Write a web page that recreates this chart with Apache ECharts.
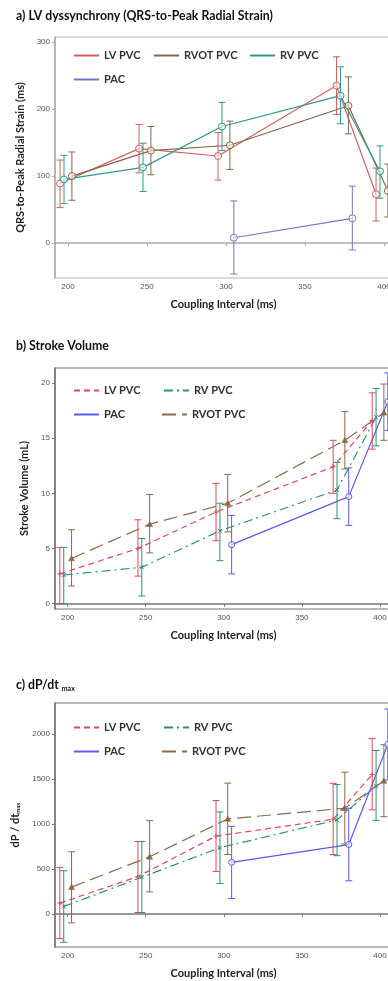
<!DOCTYPE html>
<html>
<head>
<meta charset="utf-8">
<script src="https://cdn.jsdelivr.net/npm/echarts@6/dist/echarts.min.js"></script>
<style>
  html, body { margin: 0; padding: 0; background: #fff; }
  #chart { width: 388px; height: 981px; }
</style>
</head>
<body>
<div id="chart"></div>
<script>
// tick labels
var xTicks = [200, 250, 300, 350, 400];
var aTicks = [0, 100, 200, 300];
var bTicks = [0, 5, 10, 15, 20];
var cTicks = [0, 500, 1000, 1500, 2000];

// rows: [coupling interval, mean, lower, upper]
// a) QRS-to-peak radial strain (ms)
var aLV   = [[195, 89, 53, 124], [245, 141, 105, 177], [295, 130, 94, 165], [370, 235, 192, 278], [395, 73, 33, 112]];
var aRVOT = [[202.5, 100, 64, 136], [252.5, 138, 102, 174], [302.5, 146, 110, 182], [377.5, 205, 163, 248], [402.5, 78, 39, 118]];
var aRV   = [[197.5, 95, 59, 131], [247.5, 113, 77, 149], [297.5, 174, 138, 210], [372.5, 220, 178, 263], [397.5, 107, 67, 145]];
var aPAC  = [[305, 8, -46, 63], [380, 37, -10, 85]];

// b) stroke volume (mL)
var bLV   = [[195, 2.7, 0, 5.1], [245, 5.0, 2.5, 7.6], [295, 8.3, 5.7, 10.9], [370, 12.4, 10.0, 14.8], [395, 16.6, 14.0, 19.1]];
var bRV   = [[197.5, 2.6, 0, 5.1], [247.5, 3.3, 0.7, 5.9], [297.5, 6.6, 3.9, 9.1], [372.5, 10.3, 7.7, 12.8], [397.5, 16.9, 14.3, 19.5]];
var bRVOT = [[202.5, 4.1, 1.6, 6.7], [252.5, 7.2, 4.6, 9.9], [302.5, 9.1, 6.5, 11.7], [377.5, 14.8, 12.2, 17.4], [402.5, 17.3, 14.8, 19.9]];
var bPAC  = [[305, 5.35, 2.7, 8.0], [380, 9.7, 7.1, 12.3], [405, 18.3, 15.7, 20.9]];

// c) dP/dt max
var cLV   = [[195, 120, -275, 517], [245, 415, 15, 805], [295, 865, 472, 1260], [370, 1052, 660, 1452], [395, 1550, 1156, 1951]];
var cRV   = [[197.5, 82, -315, 480], [247.5, 408, 15, 805], [297.5, 736, 339, 1134], [372.5, 1045, 647, 1438], [397.5, 1424, 1040, 1817]];
var cRVOT = [[202.5, 298, -100, 691], [252.5, 635, 245, 1037], [302.5, 1056, 660, 1454], [377.5, 1175, 777, 1576], [402.5, 1479, 1081, 1881]];
var cPAC  = [[305, 573, 171, 974], [380, 771, 368, 1175], [405, 1885, 1490, 2279]];

var font = 'Lato';
var grey = '#555';

// 误差线 + 标记
function errBar(shape, color, r) {
    return function (params, api) {
        var x = api.value(0);
        var m = api.coord([x, api.value(1)]);
        var lo = api.coord([x, api.value(2)]);
        var hi = api.coord([x, api.value(3)]);
        var cap = 3.5;
        var st = { stroke: color, lineWidth: 1, fill: 'none' };
        var kids = [
            { type: 'line', shape: { x1: lo[0], y1: lo[1], x2: hi[0], y2: hi[1] }, style: st },
            { type: 'line', shape: { x1: lo[0] - cap, y1: lo[1], x2: lo[0] + cap, y2: lo[1] }, style: st },
            { type: 'line', shape: { x1: hi[0] - cap, y1: hi[1], x2: hi[0] + cap, y2: hi[1] }, style: st }
        ];
        if (shape === 'circle') {
            kids.push({ type: 'circle', shape: { cx: m[0], cy: m[1], r: r }, style: { stroke: color, lineWidth: 1, fill: 'rgba(255,255,255,0.6)' } });
        } else if (shape === 'plus') {
            kids.push({ type: 'line', shape: { x1: m[0] - r, y1: m[1], x2: m[0] + r, y2: m[1] }, style: st });
            kids.push({ type: 'line', shape: { x1: m[0], y1: m[1] - r, x2: m[0], y2: m[1] + r }, style: st });
        } else if (shape === 'cross') {
            kids.push({ type: 'line', shape: { x1: m[0] - r, y1: m[1] - r, x2: m[0] + r, y2: m[1] + r }, style: st });
            kids.push({ type: 'line', shape: { x1: m[0] - r, y1: m[1] + r, x2: m[0] + r, y2: m[1] - r }, style: st });
        } else if (shape === 'tri') {
            kids.push({ type: 'polygon', shape: { points: [[m[0], m[1] - r], [m[0] - r, m[1] + r * 0.8], [m[0] + r, m[1] + r * 0.8]] }, style: { fill: color, stroke: color, lineWidth: 0.5 } });
        }
        return { type: 'group', children: kids };
    };
}

var series = [];
function addGroup(panel, name, rows, color, dash, shape, r) {
    series.push({
        name: name,
        type: 'line',
        xAxisIndex: panel,
        yAxisIndex: panel,
        data: rows.map(function (d) { return [d[0], d[1]]; }),
        symbol: 'none',
        itemStyle: { color: color },
        lineStyle: { color: color, width: 1.2, type: dash },
        animation: false,
        z: 3
    });
    series.push({
        name: name + ' err',
        type: 'custom',
        xAxisIndex: panel,
        yAxisIndex: panel,
        data: rows,
        encode: { x: 0, y: [1, 2, 3] },
        renderItem: errBar(shape, color, r),
        clip: true,
        animation: false,
        z: 4
    });
}

// a 面板
addGroup(0, 'LV PVC', aLV, '#d06060', 'solid', 'circle', 3.5);
addGroup(0, 'RVOT PVC', aRVOT, '#85664a', 'solid', 'circle', 3.5);
addGroup(0, 'RV PVC', aRV, '#2e9a88', 'solid', 'circle', 3.5);
addGroup(0, 'PAC', aPAC, '#7078c4', 'solid', 'circle', 3.5);
// b 面板 (名字加空格区分图例)
addGroup(1, 'LV PVC ', bLV, '#e0475c', [6, 4], 'plus', 2.5);
addGroup(1, 'RV PVC ', bRV, '#2a8f78', [9, 4, 2, 4], 'cross', 2);
addGroup(1, 'RVOT PVC ', bRVOT, '#8a6a45', [14, 6], 'tri', 3);
addGroup(1, 'PAC ', bPAC, '#5a5af0', 'solid', 'circle', 3);
// c 面板
addGroup(2, 'LV PVC  ', cLV, '#e0475c', [6, 4], 'plus', 2.5);
addGroup(2, 'RV PVC  ', cRV, '#2a8f78', [9, 4, 2, 4], 'cross', 2);
addGroup(2, 'RVOT PVC  ', cRVOT, '#8a6a45', [14, 6], 'tri', 3);
addGroup(2, 'PAC  ', cPAC, '#5a5af0', 'solid', 'circle', 3);

var legendItems = [
    ['LV PVC', 73, 50], ['RVOT PVC', 153, 50], ['RV PVC', 249, 50], ['PAC', 73, 74],
    ['LV PVC ', 73, 385], ['RV PVC ', 163, 385], ['PAC ', 73, 409], ['RVOT PVC ', 161, 409],
    ['LV PVC  ', 73, 722], ['RV PVC  ', 163, 722], ['PAC  ', 73, 746], ['RVOT PVC  ', 161, 746]
];
var legends = legendItems.map(function (it) {
    return {
        data: [it[0]],
        left: it[1],
        top: it[2],
        padding: 0,
        itemWidth: 25,
        itemHeight: 12,
        selectedMode: false,
        itemStyle: { opacity: 0 },
        textStyle: { fontFamily: font, fontWeight: 'bold', fontSize: 11, color: '#333' }
    };
});

function xAx(i, min, max, line) {
    return {
        gridIndex: i, type: 'value', min: min, max: max,
        name: 'Coupling Interval (ms)', nameLocation: 'middle', nameGap: 21,
        nameTextStyle: { fontFamily: font, fontWeight: 'bold', fontSize: 11, color: '#222' },
        axisLine: { show: true, lineStyle: { color: line, width: 1.5 } },
        axisTick: { show: true, length: 3, customValues: xTicks, lineStyle: { color: line } },
        axisLabel: { customValues: xTicks, fontSize: 8, color: grey, margin: 5, fontFamily: 'Liberation Sans' },
        splitLine: { show: false }
    };
}
function yAx(i, min, max, ticks, name, rich, line) {
    var ax = {
        gridIndex: i, type: 'value', min: min, max: max,
        name: name, nameLocation: 'middle', nameGap: 23,
        nameTextStyle: { fontFamily: font, fontWeight: 'bold', fontSize: 11, color: '#222' },
        axisLine: { show: true, lineStyle: { color: line, width: 1.5 } },
        axisTick: { show: true, length: 3, customValues: ticks, lineStyle: { color: line } },
        axisLabel: { customValues: ticks, fontSize: 8, color: grey, margin: 5, fontFamily: 'Liberation Sans',
                     formatter: function (v) { return String(v); } },
        splitLine: { show: false }
    };
    if (rich) ax.nameTextStyle.rich = rich;
    return ax;
}

var gridBase = { left: 55, right: -4, show: true, outerBoundsMode: 'none', containLabel: false };

var option = {
    backgroundColor: '#fff',
    animation: false,
    title: [
        { text: 'a) LV dyssynchrony (QRS-to-Peak Radial Strain)', left: 11, top: 5,
          textStyle: { fontFamily: font, fontWeight: 'bold', fontSize: 12.3, color: '#111' } },
        { text: 'b) Stroke Volume', left: 11, top: 335,
          textStyle: { fontFamily: font, fontWeight: 'bold', fontSize: 12.3, color: '#111' } },
        { text: '{a|c) dP/dt }{s|max}', left: 11, top: 671,
          textStyle: { rich: {
              a: { fontFamily: font, fontWeight: 'bold', fontSize: 12.3, color: '#111', lineHeight: 18 },
              s: { fontFamily: font, fontWeight: 'bold', fontSize: 7, color: '#111', lineHeight: 18, padding: [7, 0, 0, 0] }
          } } }
    ],
    legend: legends,
    grid: [
        Object.assign({ top: 37, height: 241, borderColor: '#b8b8b8', borderWidth: 1 }, gridBase),
        Object.assign({ top: 368, height: 241, borderColor: '#777', borderWidth: 1.2 }, gridBase),
        Object.assign({ top: 703, height: 244, borderColor: '#777', borderWidth: 1.2 }, gridBase)
    ],
    xAxis: [
        xAx(0, 191.8, 405.1, '#aaa'),
        xAx(1, 191.9, 407.7, '#777'),
        xAx(2, 191.9, 407.7, '#777')
    ],
    yAxis: [
        yAx(0, -52, 307.5, aTicks, 'QRS-to-Peak Radial Strain (ms)', null, '#aaa'),
        yAx(1, -0.48, 21.35, bTicks, 'Stroke Volume (mL)', null, '#777'),
        yAx(2, -368, 2345, cTicks, '{a|dP / dt}{s|max}', {
            a: { fontFamily: font, fontWeight: 'bold', fontSize: 11, color: '#222' },
            s: { fontFamily: font, fontWeight: 'bold', fontSize: 6, color: '#222', padding: [6, 0, 0, 0] }
        }, '#777')
    ],
    series: series
};

var myChart = echarts.init(document.getElementById('chart'));
myChart.setOption(option);
</script>
</body>
</html>
